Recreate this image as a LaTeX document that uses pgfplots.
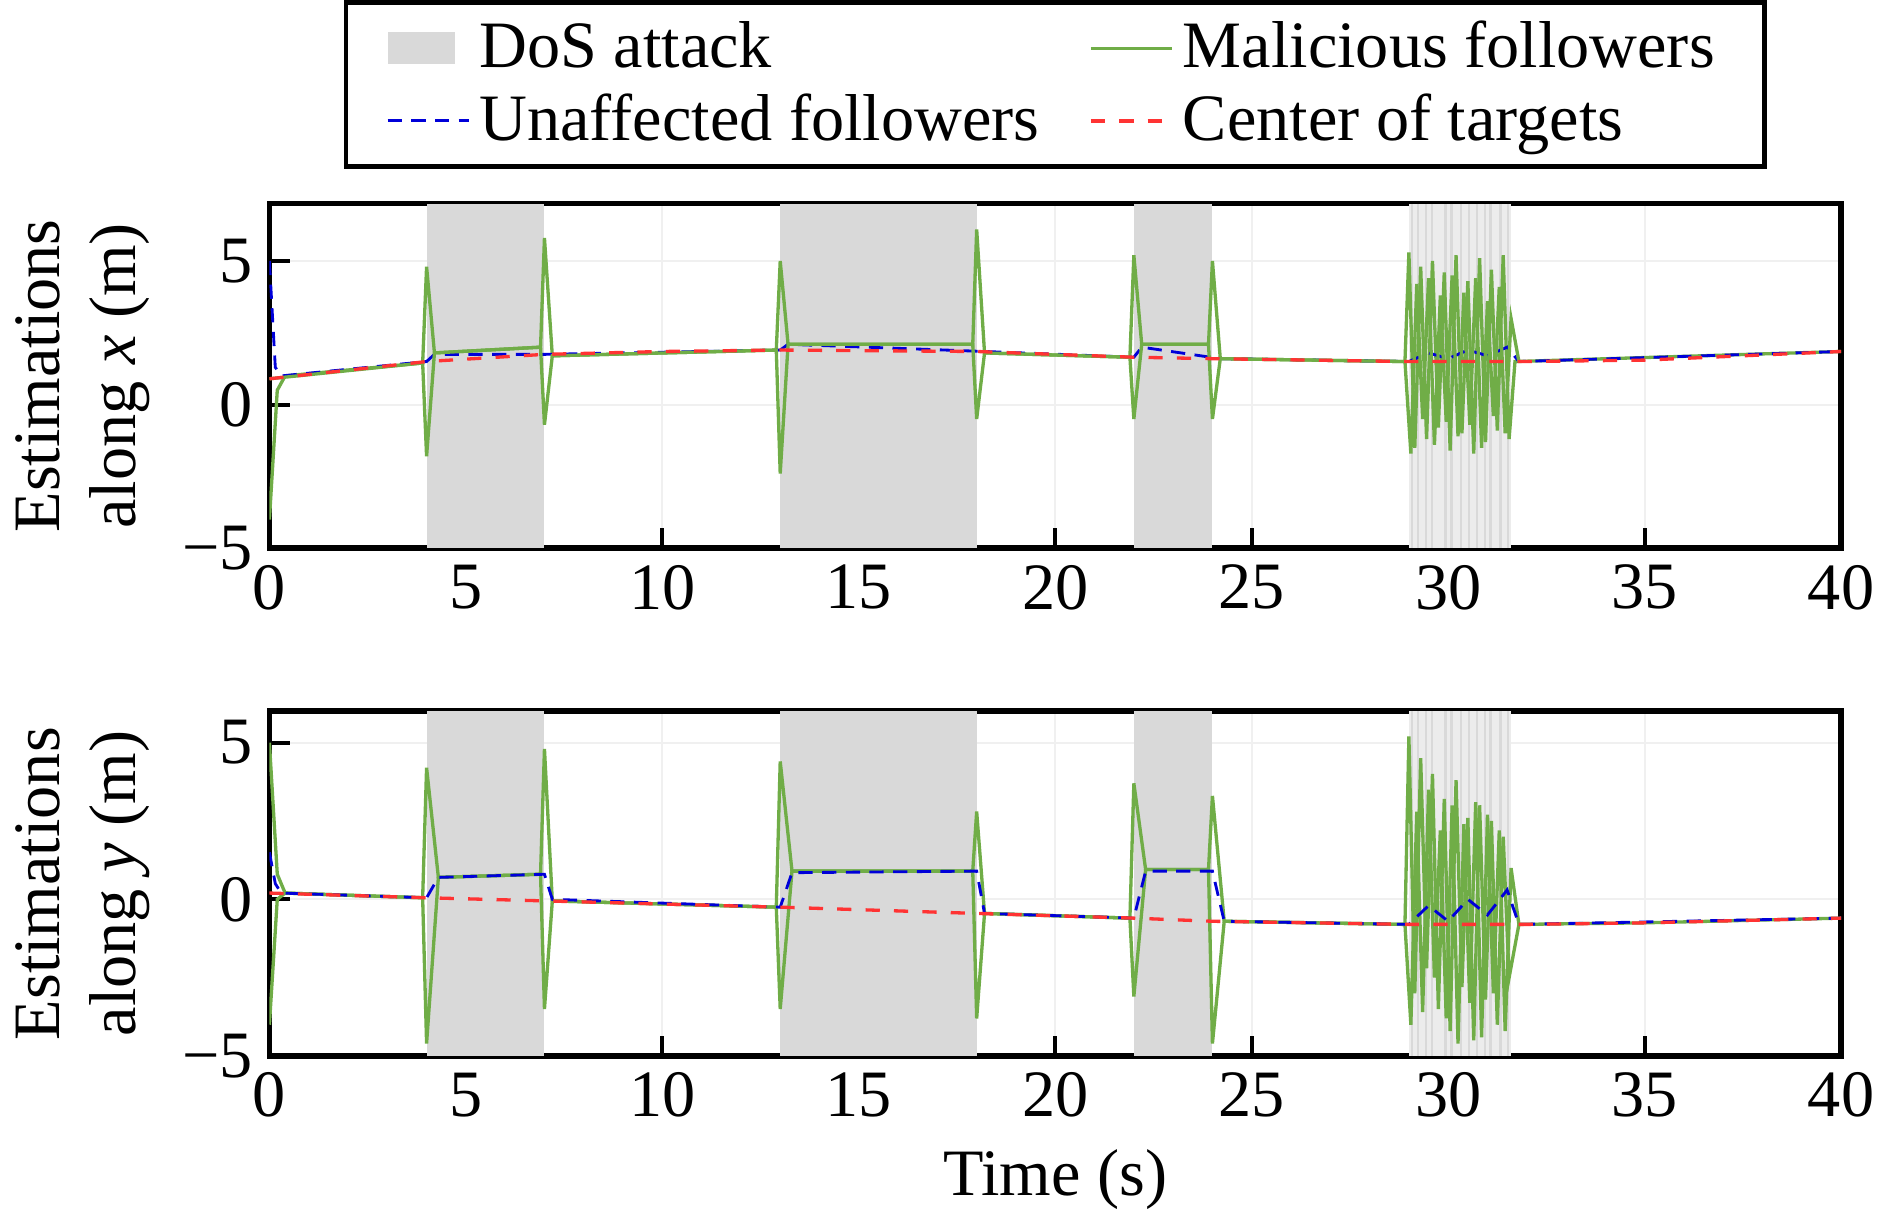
\documentclass[border=0pt]{standalone}
\usepackage{pgfplots}
\pgfplotsset{compat=1.18}
\usepackage{fontspec}
\setmainfont{Liberation Serif}
\definecolor{mgreen}{RGB}{112,173,71}
\definecolor{dosgray}{RGB}{217,217,217}
\pgfplotsset{
 base/.style={scale only axis, width=11.67cm, height=2.56cm, xmin=0, xmax=40,
  xtick={0,5,...,40}, ytick={-5,0,5}, yticklabels={−5,0,5}, grid=major, grid style={gray!12},
  axis line style={line width=1.2pt}, tick style={line width=0.8pt,black}, tick align=inside,
  /pgf/number format/assume math mode=true,
  tick label style={font=\fontsize{14}{16}\selectfont},
  label style={font=\fontsize{14}{16}\selectfont},
  ylabel style={align=center}, xtick pos=bottom, ytick pos=left},
 dos/.style={fill=dosgray, draw=none, legend image code/.code={\fill[dosgray] (0cm,-0.12cm) rectangle (0.5cm,0.12cm);}},
 mal/.style={mgreen, line width=0.7pt},
 una/.style={blue!85!black, densely dashed, line width=0.6pt},
 cen/.style={red!80!white, dashed, line width=0.7pt},
}
\begin{document}
\begin{tikzpicture}
\begin{axis}[base, ymin=-5, ymax=7, ylabel={Estimations\\along \textit{x} (m)},
 legend columns=2, legend style={at={(0.5,1.1)}, anchor=south, draw=black, line width=1pt,
 font=\fontsize{14}{16}\selectfont, inner xsep=0.3cm, /tikz/every even column/.append style={column sep=0.3cm}},
 legend cell align=left]
\addplot[dos] coordinates {(4,-5)(4,7)(7,7)(7,-5)} -- cycle;
\addlegendentry{DoS attack}
\addplot[dos, forget plot] coordinates {(13,-5)(13,7)(18,7)(18,-5)} -- cycle;
\addplot[dos, forget plot] coordinates {(22,-5)(22,7)(24,7)(24,-5)} -- cycle;
\addplot[dos, fill=dosgray!50, forget plot] coordinates {(29,-5)(29,7)(31.6,7)(31.6,-5)} -- cycle;
\pgfplotsinvokeforeach{29.05,29.2,29.4,29.55,29.9,30.05,30.3,30.5,30.7,30.9,31.05,31.3,31.5}{
 \addplot[dos, forget plot] coordinates {(#1,-5)(#1,7)(#1+0.06,7)(#1+0.06,-5)} -- cycle;}
\addplot[mal] coordinates {(0,-4)(0.2,0.5)(0.4,1.0)(3.9,1.45)(4.0,4.8)(4.2,1.8)(6.9,2.0)(7.0,5.8)(7.2,1.7)(12.9,1.9)(13.0,5.0)(13.2,2.1)(17.9,2.1)(18.0,6.1)(18.2,1.8)(21.9,1.65)(22.0,5.2)(22.2,2.1)(23.9,2.1)(24.0,5.0)(24.2,1.6)(28.9,1.5)
(29.0,5.3)(29.15,-1.5)(29.3,4.8)(29.45,-1.2)(29.6,5.0)(29.75,-0.8)(29.9,4.6)(30.05,-1.6)(30.2,5.2)(30.35,-1.0)(30.5,4.3)(30.65,-1.7)(30.8,5.1)(30.95,-1.3)(31.1,4.7)(31.25,-0.9)(31.4,5.2)(31.55,-1.2)(31.7,1.5)(40,1.85)};
\addlegendentry{Malicious followers}
\addplot[una] coordinates {(0,5)(0.15,1.3)(0.3,1.0)(4,1.5)(4.2,1.75)(7,1.75)(13,1.9)(13.2,2.1)(18.2,1.85)(22,1.65)(22.2,2.0)(24.2,1.6)(29,1.5)(29.5,1.8)(30,1.6)(30.5,1.9)(31,1.7)(31.5,2.0)(31.8,1.5)(40,1.85)};
\addlegendentry{Unaffected followers}
\addplot[mal, forget plot] coordinates {(0,0.9)(3.9,1.45)(4.0,-1.8)(4.2,1.8)(6.9,2.0)(7.0,-0.7)(7.2,1.7)(12.9,1.9)(13.0,-2.4)(13.2,2.1)(17.9,2.1)(18.0,-0.5)(18.2,1.8)(21.9,1.65)(22.0,-0.5)(22.2,2.1)(23.9,2.1)(24.0,-0.5)(24.2,1.6)(28.9,1.5)
(29.05,-1.7)(29.2,4.2)(29.35,-0.5)(29.5,4.4)(29.65,-1.4)(29.8,3.8)(29.95,-0.6)(30.1,4.5)(30.25,-1.1)(30.4,3.9)(30.55,-0.7)(30.7,4.4)(30.85,-1.5)(31.0,3.6)(31.15,-0.4)(31.3,4.1)(31.45,-1.0)(31.6,3.0)(31.8,1.5)};
\addplot[cen] coordinates {(0,0.9)(4,1.5)(7,1.75)(10,1.85)(13,1.9)(18,1.85)(22,1.65)(24,1.6)(29,1.5)(32,1.5)(35,1.55)(40,1.85)};
\addlegendentry{Center of targets}
\end{axis}
\begin{axis}[base, yshift=-3.77cm, ymin=-5, ymax=6, ylabel={Estimations\\along \textit{y} (m)}, xlabel={Time (s)}]
\addplot[dos] coordinates {(4,-5)(4,6)(7,6)(7,-5)} -- cycle;
\addplot[dos] coordinates {(13,-5)(13,6)(18,6)(18,-5)} -- cycle;
\addplot[dos] coordinates {(22,-5)(22,6)(24,6)(24,-5)} -- cycle;
\addplot[dos, fill=dosgray!50] coordinates {(29,-5)(29,6)(31.6,6)(31.6,-5)} -- cycle;
\pgfplotsinvokeforeach{29.05,29.2,29.4,29.55,29.9,30.05,30.3,30.5,30.7,30.9,31.05,31.3,31.5}{
 \addplot[dos] coordinates {(#1,-5)(#1,6)(#1+0.06,6)(#1+0.06,-5)} -- cycle;}
\addplot[mal] coordinates {(0,5)(0.2,0.8)(0.4,0.2)(3.9,0.05)(4.0,4.2)(4.3,0.7)(6.9,0.8)(7.0,4.8)(7.2,-0.05)(12.9,-0.25)(13.0,4.4)(13.3,0.9)(17.9,0.9)(18.0,2.8)(18.2,-0.45)(21.9,-0.6)(22.0,3.7)(22.3,0.95)(23.9,0.95)(24.0,3.3)(24.3,-0.7)(28.9,-0.8)
(29.0,5.2)(29.15,-3.0)(29.3,4.5)(29.45,-2.2)(29.6,4.0)(29.75,-3.5)(29.9,3.2)(30.05,-4.2)(30.2,3.8)(30.35,-2.8)(30.5,2.6)(30.65,-4.5)(30.8,3.0)(30.95,-3.2)(31.1,2.5)(31.25,-4.0)(31.4,2.0)(31.55,-2.5)(31.8,-0.8)(35,-0.75)(40,-0.6)};
\addplot[mal] coordinates {(0,-4)(0.2,0.0)(0.4,0.2)(3.9,0.05)(4.0,-4.6)(4.3,0.7)(6.9,0.8)(7.0,-3.5)(7.2,-0.05)(12.9,-0.25)(13.0,-3.5)(13.3,0.9)(17.9,0.9)(18.0,-3.8)(18.2,-0.45)(21.9,-0.6)(22.0,-3.1)(22.3,0.95)(23.9,0.95)(24.0,-4.6)(24.3,-0.7)(28.9,-0.8)
(29.05,-4.0)(29.2,2.8)(29.35,-3.6)(29.5,3.5)(29.65,-2.5)(29.8,2.2)(29.95,-3.8)(30.1,3.0)(30.25,-4.6)(30.4,2.4)(30.55,-3.3)(30.7,3.1)(30.85,-4.4)(31.0,2.7)(31.15,-3.0)(31.3,2.2)(31.45,-4.2)(31.6,1.0)(31.8,-0.8)};
\addplot[una] coordinates {(0,1.5)(0.15,0.5)(0.3,0.2)(4,0.05)(4.3,0.7)(7,0.8)(7.2,0.0)(13,-0.25)(13.3,0.85)(18,0.9)(18.2,-0.45)(22,-0.6)(22.3,0.9)(24,0.9)(24.3,-0.7)(29,-0.8)(29.5,-0.2)(30,-0.7)(30.5,0.0)(31,-0.5)(31.5,0.3)(31.8,-0.8)(40,-0.6)};
\addplot[cen] coordinates {(0,0.2)(4,0.05)(7,-0.05)(13,-0.25)(18,-0.45)(22,-0.6)(24,-0.7)(29,-0.8)(32,-0.8)(35,-0.75)(40,-0.6)};
\end{axis}
\end{tikzpicture}
\end{document}
